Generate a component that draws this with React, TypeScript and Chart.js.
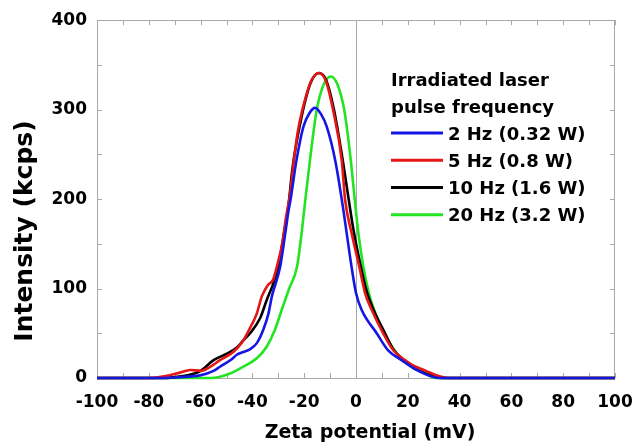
import React, { useEffect, useRef } from "react";
import { Chart, registerables } from "chart.js";

Chart.register(...registerables);

const FONT = '"DejaVu Sans", "Liberation Sans", sans-serif';

// ---- data ----
const seriesLabels = ["2 Hz (0.32 W)", "5 Hz (0.8 W)", "10 Hz (1.6 W)", "20 Hz (3.2 W)"];
const seriesColors = ["#1616e4", "#e41616", "#000000", "#22e422"];
const legendTitle = ["Irradiated laser", "pulse frequency"];
const xTickValues = [-100, -80, -60, -40, -20, 0, 20, 40, 60, 80, 100];
const yTickValues = [0, 100, 200, 300, 400];
const xTitle = "Zeta potential (mV)";
const yTitle = "Intensity (kcps)";

const hz2X = [-100, -75, -70, -65, -60, -55, -52.5, -48, -46, -43.5, -41, -38.3, -35.8, -33.8, -32.5, -29.3, -27.3, -26, -25.3, -23, -20.3, -18, -15.8, -13.5, -11.3, -8, -5.2, -3.6, -1.7, 0, 2.2, 8, 12.4, 17.6, 23.4, 32, 100];
const hz2Y = [0, 0, 0.5, 1.5, 3, 8, 12.6, 21, 26, 29, 32, 39, 54, 72, 91, 124, 162, 188, 199, 243, 281, 296, 302, 295, 281, 243, 194, 162, 124, 95, 76, 50, 31, 20, 9, 0, 0];

const hz5X = [-100, -80, -76, -72, -68, -64, -60, -56, -52.5, -47.4, -43.5, -40.9, -38.3, -36.4, -34, -32, -30.6, -28.5, -27, -25.5, -24, -22.5, -20.7, -17.5, -14.3, -11.5, -8.8, -5.5, -4.2, -1.7, 1.3, 3.5, 6.1, 10.5, 14.4, 18.9, 22, 27, 31, 36, 100];
const hz5Y = [0, 0, 1, 3, 6, 9, 8, 13, 20, 29, 42, 56, 72, 91, 104, 110, 124, 150, 180, 205, 243, 275, 300, 331, 341, 331, 299, 243, 199, 162, 124, 95, 76, 50, 31, 20, 14, 8, 3, 0, 0];

const hz10X = [-100, -75, -70, -65, -60, -55, -50, -46, -43.5, -40.9, -37, -34.5, -32, -30, -27.8, -26.2, -24.5, -21, -17.5, -14.3, -11.5, -8.5, -5.2, -3, -1, 1.6, 4.1, 6.8, 11.2, 14.4, 18.5, 23, 28, 34, 100];
const hz10Y = [0, 0, 1, 3, 8, 20, 27, 34, 42, 50, 67, 87, 105, 124, 162, 190, 235, 292, 330, 341, 333, 300, 245, 203, 166, 128, 97, 76, 50, 32, 20, 10, 4, 0, 0];

const hz20X = [-100, -56, -53.8, -48.6, -43.5, -38.3, -34.5, -31.3, -28.7, -25.8, -22.8, -21, -20, -17.8, -15.2, -12.5, -9.7, -7, -4.5, -2, -0.5, 1, 2.8, 4.8, 7, 10.5, 14.4, 17.6, 24.7, 31, 100];
const hz20Y = [0, 0, 0.5, 5, 12.6, 22, 35, 54, 76, 100, 124, 162, 188, 243, 299, 328, 337, 327, 299, 243, 200, 160, 125, 97, 76, 52, 33, 22, 9, 0, 0];

const seriesX = [hz2X, hz5X, hz10X, hz20X];
const seriesY = [hz2Y, hz5Y, hz10Y, hz20Y];

const FRAME = "#a8a8a8";

const decorPlugin = {
  id: "decor",
  beforeDatasetsDraw(chart: any) {
    const { ctx, chartArea: a, scales } = chart;
    const x = scales.x;
    const y = scales.y;
    ctx.save();
    ctx.strokeStyle = FRAME;
    ctx.lineWidth = 1;
    const ln = (x1: number, y1: number, x2: number, y2: number) => {
      ctx.beginPath();
      ctx.moveTo(x1, y1);
      ctx.lineTo(x2, y2);
      ctx.stroke();
    };
    const x0 = Math.round(x.getPixelForValue(0)) + 0.5;
    ln(x0, a.top, x0, a.bottom);
    ctx.strokeRect(Math.round(a.left) + 0.5, Math.round(a.top) + 0.5, Math.round(a.width) - 1, Math.round(a.height));
    for (let v = -100; v <= 100; v += 10) {
      const px = Math.round(x.getPixelForValue(v)) + 0.5;
      ln(px, a.bottom, px, a.bottom - 5);
      ln(px, a.top, px, a.top + 5);
    }
    for (let v = 0; v <= 400; v += 50) {
      const py = Math.round(y.getPixelForValue(v)) + 0.5;
      ln(a.left, py, a.left + 5, py);
      ln(a.right, py, a.right - 5, py);
    }
    ctx.restore();
  },
  afterDraw(chart: any) {
    const { ctx } = chart;
    ctx.save();
    ctx.fillStyle = "#000";
    ctx.font = `bold 19px ${FONT}`;
    ctx.textAlign = "center";
    ctx.textBaseline = "alphabetic";
    ctx.fillText(xTitle, 370, 438);
    ctx.save();
    ctx.translate(32, 231);
    ctx.rotate(-Math.PI / 2);
    ctx.font = `bold 25px ${FONT}`;
    ctx.textAlign = "center";
    ctx.fillText(yTitle, 0, 0);
    ctx.restore();
    ctx.font = `bold 18px ${FONT}`;
    ctx.textAlign = "left";
    ctx.textBaseline = "alphabetic";
    const lx = 391;
    ctx.fillText(legendTitle[0], lx, 85.5);
    ctx.fillText(legendTitle[1], lx, 112.5);
    const rows = [133, 160.3, 187.5, 214.8];
    seriesLabels.forEach((lab, i) => {
      const cy = rows[i];
      ctx.strokeStyle = seriesColors[i];
      ctx.lineWidth = 3;
      ctx.beginPath();
      ctx.moveTo(lx, cy);
      ctx.lineTo(443, cy);
      ctx.stroke();
      ctx.fillText(lab, 448, cy + 6.5);
    });
    ctx.restore();
  },
};

export default function App() {
  const ref = useRef<HTMLCanvasElement | null>(null);
  useEffect(() => {
    if (!ref.current) return;
    const datasets = seriesLabels.map((label, i) => ({
      label,
      data: seriesX[i].map((xv, j) => ({ x: xv, y: seriesY[i][j] })),
      borderColor: seriesColors[i],
      backgroundColor: seriesColors[i],
      borderWidth: 2.6,
      pointRadius: 0,
      fill: false,
      cubicInterpolationMode: "monotone" as const,
      clip: 4,
    }));
    const chart = new Chart(ref.current, {
      type: "line",
      data: { datasets },
      options: {
        animation: false,
        responsive: false,
        maintainAspectRatio: false,
        layout: { padding: { top: 20, right: 21, left: 0, bottom: 0 } },
        plugins: { legend: { display: false }, tooltip: { enabled: false } },
        scales: {
          x: {
            type: "linear",
            min: -100,
            max: 100,
            afterBuildTicks: (s: any) => {
              s.ticks = xTickValues.map((v) => ({ value: v }));
            },
            afterFit: (s: any) => {
              s.height = 66;
            },
            grid: { display: false, drawTicks: true, tickLength: 12 },
            border: { display: false },
            ticks: {
              padding: 2,
              color: "#000",
              maxRotation: 0,
              autoSkip: false,
              font: { family: FONT, size: 17, weight: "bold" },
            },
          },
          y: {
            type: "linear",
            min: 0,
            max: 400,
            afterBuildTicks: (s: any) => {
              s.ticks = yTickValues.map((v) => ({ value: v }));
            },
            afterFit: (s: any) => {
              s.width = 97;
            },
            grid: { display: false, drawTicks: false },
            border: { display: false },
            ticks: {
              padding: 10,
              color: "#000",
              font: { family: FONT, size: 17, weight: "bold" },
            },
          },
        },
      },
      plugins: [decorPlugin],
    });
    return () => chart.destroy();
  }, []);
  return (
    <div style={{ position: "fixed", left: 0, top: 0, width: 636, height: 444, background: "#fff" }}>
      <canvas ref={ref} width={636} height={444} style={{ width: 636, height: 444, display: "block" }} />
    </div>
  );
}
